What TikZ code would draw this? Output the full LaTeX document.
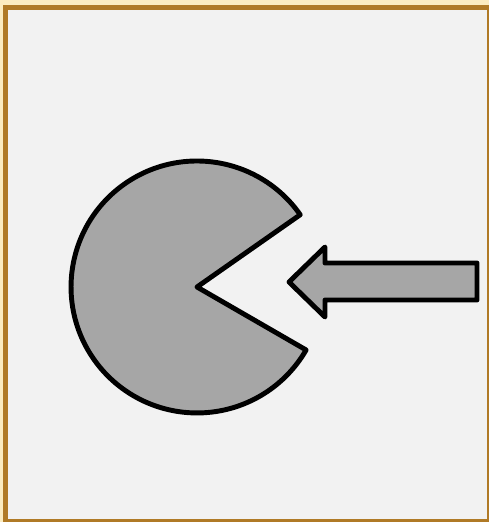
\documentclass[tikz,border=0pt]{standalone}
\usepackage{xcolor}
\definecolor{framebrown}{RGB}{176,122,38}
\definecolor{outerbeige}{RGB}{252,236,192}
\definecolor{panelgray}{RGB}{242,242,242}
\definecolor{bodygray}{RGB}{166,166,166}
\usepackage{tikz}

\begin{document}
\begin{tikzpicture}[x=0.02cm, y=0.02cm,
  shape line/.style={draw=black, line width=2.8pt, line join=round, fill=bodygray}]
  % page and frame
  \fill[outerbeige] (0,0) rectangle (489,522);
  \useasboundingbox (0,0) rectangle (489,522);
  \draw[framebrown, fill=panelgray, line width=3pt] (5.5,0.5) rectangle (490,514.5);
  % pie with a mouth
  \coordinate (mouth) at (197,235);
  \draw[shape line] (mouth) -- +(35:126) arc[start angle=35, end angle=330, radius=2.52cm] -- cycle;
  % arrow pointing into the mouth
  \coordinate (tip) at (289,240);
  \draw[shape line] (tip) -- (325,275) -- (325,259) -- (477,259) -- (477,222) -- (325,222) -- (325,205) -- cycle;
\end{tikzpicture}
\end{document}
